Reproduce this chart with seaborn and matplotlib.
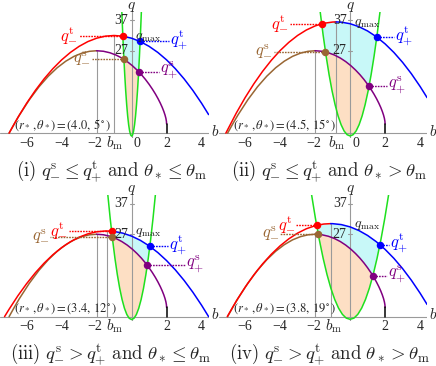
import numpy as np
import matplotlib
matplotlib.use("Agg")
import matplotlib.pyplot as plt
import seaborn as sns

sns.set_theme(style="white")
plt.rcParams["font.family"] = ["Liberation Serif", "DejaVu Serif"]
plt.rcParams["mathtext.fontset"] = "cm"

# critical curve q_s(b), same in all four panels
s_b = [-7.00, -6.70, -6.41, -5.84, -5.29, -4.76, -4.25, -3.76, -3.29, -2.84, -2.41, -2.00,
       -1.61, -1.24, -0.89, -0.56, -0.25, 0.04, 0.31, 0.56, 0.79, 1.00, 1.19, 1.36,
       1.51, 1.64, 1.75, 1.84, 1.91, 1.96, 1.99, 2.00]
s_q = [0.00, 3.08, 5.93, 10.97, 15.20, 18.66, 21.44, 23.58, 25.16, 26.21, 26.81, 27.00,
       26.83, 26.34, 25.59, 24.61, 23.44, 22.12, 20.68, 19.17, 17.60, 16.00, 14.40, 12.83,
       11.30, 9.83, 8.44, 7.13, 5.93, 4.84, 3.86, 3.00]

# turning-point curves q_t(b), one per panel
t_b_1 = [-7.0, -6.5, -6.0, -5.5, -5.0, -4.5, -4.0, -3.5, -3.0, -2.5, -2.0, -1.5, -1.0,
         -0.5, 0.0, 0.5, 1.0, 1.5, 2.0, 2.5, 3.0, 3.5, 4.0, 4.4]
t_q_1 = [0.0, 5.11, 9.78, 14.00, 17.78, 21.11, 24.00, 26.44, 28.44, 30.00, 31.11, 31.78, 32.00,
         31.78, 31.11, 30.00, 28.44, 26.44, 24.00, 21.11, 17.78, 14.00, 9.78, 6.08]
t_b_2 = [-7.1, -6.5, -6.0, -5.5, -5.0, -4.5, -4.0, -3.5, -3.0, -2.5, -2.0, -1.5, -1.0, -0.8,
         -0.5, 0.0, 0.5, 1.0, 1.5, 2.0, 2.5, 3.0, 3.5, 4.0, 4.4]
t_q_2 = [0.0, 6.61, 11.62, 16.16, 20.25, 23.88, 27.05, 29.76, 32.01, 33.80, 35.13, 36.00, 36.41, 36.45,
         36.37, 35.86, 34.90, 33.48, 31.59, 29.25, 26.45, 23.19, 19.47, 15.29, 11.62]
t_b_3 = [-7.26, -7.0, -6.5, -6.0, -5.5, -5.0, -4.5, -4.0, -3.5, -3.0, -2.5, -2.0, -1.5, -1.43,
         -1.0, -0.5, 0.0, 0.5, 1.0, 1.5, 2.0, 2.5, 3.0, 3.5, 4.0, 4.4]
t_q_3 = [0.0, 2.42, 6.82, 10.80, 14.37, 17.53, 20.28, 22.61, 24.53, 26.03, 27.13, 27.80, 28.07, 28.07,
         27.92, 27.36, 26.39, 25.00, 23.20, 20.99, 18.36, 15.32, 11.87, 8.00, 3.72, 0.0]
t_b_4 = [-7.02, -6.5, -6.0, -5.5, -5.0, -4.5, -4.0, -3.5, -3.0, -2.5, -2.0, -1.5, -1.11,
         -1.0, -0.5, 0.0, 0.5, 1.0, 1.5, 2.0, 2.5, 3.0, 3.5, 4.0, 4.4]
t_q_4 = [0.0, 5.15, 9.63, 13.68, 17.29, 20.46, 23.20, 25.50, 27.37, 28.80, 29.79, 30.35, 30.48,
         30.47, 30.16, 29.41, 28.22, 26.60, 24.54, 22.04, 19.11, 15.74, 11.93, 7.69, 3.99]

# green boundary parabola, one per panel
g_b_1 = [-0.560, -0.504, -0.448, -0.392, -0.336, -0.280, -0.224, -0.168, -0.112, -0.056, 0.0,
         0.056, 0.112, 0.168, 0.224, 0.280, 0.336, 0.392, 0.448, 0.504, 0.560]
g_q_1 = [40.0, 32.21, 25.24, 19.09, 13.77, 9.26, 5.57, 2.70, 0.65, -0.58, -0.99,
         -0.58, 0.65, 2.70, 5.57, 9.26, 13.77, 19.09, 25.24, 32.21, 40.0]
g_b_2 = [-1.714, -1.543, -1.371, -1.200, -1.029, -0.857, -0.686, -0.514, -0.343, -0.171, 0.0,
         0.171, 0.343, 0.514, 0.686, 0.857, 1.029, 1.200, 1.371, 1.543, 1.714]
g_q_2 = [40.0, 32.22, 25.26, 19.12, 13.80, 9.30, 5.62, 2.75, 0.70, -0.52, -0.93,
         -0.52, 0.70, 2.75, 5.62, 9.30, 13.80, 19.12, 25.26, 32.22, 40.0]
g_b_3 = [-1.360, -1.224, -1.088, -0.952, -0.816, -0.680, -0.544, -0.408, -0.272, -0.136, 0.0,
         0.136, 0.272, 0.408, 0.544, 0.680, 0.816, 0.952, 1.088, 1.224, 1.360]
g_q_3 = [40.0, 32.22, 25.26, 19.11, 13.79, 9.28, 5.60, 2.73, 0.68, -0.55, -0.96,
         -0.55, 0.68, 2.73, 5.60, 9.28, 13.79, 19.11, 25.26, 32.22, 40.0]
g_b_4 = [-2.202, -1.982, -1.762, -1.541, -1.321, -1.101, -0.881, -0.661, -0.440, -0.220, 0.0,
         0.220, 0.440, 0.661, 0.881, 1.101, 1.321, 1.541, 1.762, 1.982, 2.202]
g_q_4 = [40.0, 32.23, 25.28, 19.14, 13.83, 9.33, 5.65, 2.79, 0.74, -0.49, -0.89,
         -0.49, 0.74, 2.79, 5.65, 9.33, 13.83, 19.14, 25.28, 32.23, 40.0]

# dots: q_-^t, q_+^t, q_-^s, q_+^s
dot_b_1 = [-0.502, 0.487, -0.439, 0.403]
dot_q_1 = [31.77, 30.04, 24.20, 20.15]
dot_b_2 = [-1.625, 1.526, -1.406, 1.081]
dot_q_2 = [35.83, 31.48, 26.60, 15.34]
dot_b_3 = [-1.144, 1.041, -1.106, 0.896]
dot_q_3 = [28.01, 23.03, 26.08, 16.81]
dot_b_4 = [-1.912, 1.703, -1.818, 1.301]
dot_q_4 = [29.93, 23.57, 26.96, 13.39]

# where the dotted leader lines end (label side)
lab_b_1 = [-3.02, 2.12, -2.26, 1.55]
lab_b_2 = [-3.45, 2.52, -4.36, 2.08]
lab_b_3 = [-3.60, 2.08, -4.65, 3.03]
lab_b_4 = [-3.08, 2.21, -3.98, 2.12]

b_m = [-1.0, -0.8, -1.43, -1.11]
q_max = [32.0, 36.45, 28.07, 30.48]
bm_label_b = [-0.97, -0.78, -0.98, -0.95]
show_zero = [True, True, False, False]
params = [r"$(r_*\,,\theta_*)=(4.0,\,5^\circ)$", r"$(r_*\,,\theta_*)=(4.5,\,15^\circ)$",
          r"$(r_*\,,\theta_*)=(3.4,\,12^\circ)$", r"$(r_*\,,\theta_*)=(3.8,\,19^\circ)$"]
captions = [r"$\mathrm{(i)}\ q^{\mathrm{s}}_{-}\leq q^{\mathrm{t}}_{+}\ \mathrm{and}\ \theta_*\leq\theta_{\mathrm{m}}$",
            r"$\mathrm{(ii)}\ q^{\mathrm{s}}_{-}\leq q^{\mathrm{t}}_{+}\ \mathrm{and}\ \theta_*>\theta_{\mathrm{m}}$",
            r"$\mathrm{(iii)}\ q^{\mathrm{s}}_{-}> q^{\mathrm{t}}_{+}\ \mathrm{and}\ \theta_*\leq\theta_{\mathrm{m}}$",
            r"$\mathrm{(iv)}\ q^{\mathrm{s}}_{-}> q^{\mathrm{t}}_{+}\ \mathrm{and}\ \theta_*>\theta_{\mathrm{m}}$"]

RED, BLUE, BROWN, PURPLE = "#ff0000", "#0000ff", "#996633", "#800080"
GREEN = "#1ee01e"
CYAN_FILL, ORANGE_FILL = "#c8f8f8", "#fddfc4"
GRAY = "#9a9a9a"

W, H = 436, 366
fig = plt.figure(figsize=(W / 100, H / 100), dpi=100)


def seg(b, q, lo, hi, desc=False):
    b = np.asarray(b)
    q = np.asarray(q)
    m = (b > lo) & (b < hi)
    bb, qq = b[m], q[m]
    if desc:
        bb, qq = bb[::-1], qq[::-1]
    return list(bb), list(qq)


def panel(k, xoff, yoff, t_b, t_q, g_b, g_q, d_b, d_q, l_b):
    ax = fig.add_axes([xoff / W, 1 - (yoff + 137.7) / H, 208.6 / W, 125.7 / H])
    ax.set_xlim(-7.52, 4.4)
    ax.set_ylim(-1.5, 39.7)
    ax.axis("off")

    rb, bb_, sb, pb = d_b
    rq, bq, sq, pq = d_q

    # orange region: inside parabola, below q_s
    xs, ys = seg(s_b, s_q, sb, pb)
    gx, gy = seg(g_b, g_q, sb, pb, desc=True)
    ax.fill([sb] + xs + [pb] + gx, [sq] + ys + [pq] + gy, color=ORANGE_FILL, lw=0, zorder=1)

    # cyan region: inside parabola, between q_s and q_t
    tx, ty = seg(t_b, t_q, rb, bb_)
    g1x, g1y = seg(g_b, g_q, pb, bb_, desc=True)
    s2x, s2y = seg(s_b, s_q, sb, pb, desc=True)
    g2x, g2y = seg(g_b, g_q, rb, sb, desc=True)
    ax.fill([rb] + tx + [bb_] + g1x + [pb] + s2x + [sb] + g2x,
            [rq] + ty + [bq] + g1y + [pq] + s2y + [sq] + g2y,
            color=CYAN_FILL, lw=0, zorder=1)

    # axes and guide lines
    ax.plot([-7.52, 4.4], [0, 0], color=GRAY, lw=0.8, zorder=2)
    ax.plot([0, 0], [-1.5, 39.7], color=GRAY, lw=0.8, zorder=2)
    ax.plot([-2, -2], [0, 27], color=GRAY, lw=0.8, zorder=2)
    ax.plot([b_m[k], b_m[k]], [0, q_max[k]], color=GRAY, lw=0.8, zorder=2)
    for qt in (27, 37):
        ax.plot([-0.12, 0.12], [qt, qt], color=GRAY, lw=0.8, zorder=2)

    sns.lineplot(x=g_b, y=g_q, ax=ax, color=GREEN, lw=1.1, sort=False, estimator=None,
                 legend=False, zorder=3)

    # q_s: brown left of its maximum, purple to the right
    s_arr_b, s_arr_q = np.array(s_b), np.array(s_q)
    left = s_arr_b <= -2
    right = s_arr_b >= -2
    sns.lineplot(x=s_arr_b[left], y=s_arr_q[left], ax=ax, color=BROWN, lw=1.1, sort=False,
                 estimator=None, legend=False, zorder=4)
    sns.lineplot(x=s_arr_b[right], y=s_arr_q[right], ax=ax, color=PURPLE, lw=1.1, sort=False,
                 estimator=None, legend=False, zorder=4)
    ax.plot([2, 2], [0, 3.0], color="black", lw=1.1, zorder=4)

    # q_t: red up to the split, blue after
    split = max(b_m[k], rb)
    tb = np.array(list(t_b) + [rb])
    tq = np.array(list(t_q) + [rq])
    o = np.argsort(tb)
    tb, tq = tb[o], tq[o]
    r = tb <= split + 1e-9
    bl = tb >= split - 1e-9
    sns.lineplot(x=tb[r], y=tq[r], ax=ax, color=RED, lw=1.1, sort=False, estimator=None,
                 legend=False, zorder=5)
    sns.lineplot(x=tb[bl], y=tq[bl], ax=ax, color=BLUE, lw=1.1, sort=False, estimator=None,
                 legend=False, zorder=5)

    # leader lines, dots and labels
    cols = [RED, BLUE, BROWN, PURPLE]
    labs = [r"$q^{\mathrm{t}}_{-}$", r"$q^{\mathrm{t}}_{+}$", r"$q^{\mathrm{s}}_{-}$", r"$q^{\mathrm{s}}_{+}$"]
    for i in range(4):
        ax.plot([d_b[i], l_b[i]], [d_q[i], d_q[i]], color=cols[i], lw=1.0,
                linestyle=(0, (1.2, 0.8)), zorder=6)
        ax.plot(d_b[i], d_q[i], "o", color=cols[i], ms=5.4, mec="none", zorder=7)
        left_side = l_b[i] < d_b[i]
        ax.text(l_b[i] + (-0.06 if left_side else 0.06), d_q[i] + 0.3, labs[i], color=cols[i],
                fontsize=12, ha="right" if left_side else "left", va="center", zorder=8)

    # tick labels
    tfs = 10
    for bt in (-6, -4, -2, 2, 4):
        ax.text(bt - (0.08 if bt == -2 else 0), -3.3, "\u2212%d" % -bt if bt < 0 else "%d" % bt,
                fontsize=tfs, ha="center", va="center", clip_on=False)
    ax.text(bm_label_b[k], -3.3, r"$b_{\mathrm{m}}$", fontsize=tfs + 1, ha="center", va="center",
            clip_on=False)
    if show_zero[k]:
        ax.text(0.32, -3.3, "0", fontsize=tfs, ha="center", va="center", clip_on=False)
    ax.text(-0.2, 37, "37", fontsize=tfs, ha="right", va="center", zorder=8)
    ax.text(-0.2, 27, "27", fontsize=tfs, ha="right", va="center", zorder=8)
    ax.text(0.2, q_max[k] - 0.5, r"$q_{\mathrm{max}}$", fontsize=tfs, ha="left", va="center",
            zorder=8)
    ax.text(4.75, 0.6, r"$b$", fontsize=11, ha="center", va="center", clip_on=False)
    ax.text(0, 41.4, r"$q$", fontsize=11, ha="center", va="center", clip_on=False)

    ax.text(-6.7, 2.7, params[k], fontsize=9, ha="left", va="center", zorder=8,
            math_fontfamily="stix")

    fig.text((xoff + 111) / W, 1 - (yoff + 171.0) / H, captions[k], fontsize=13.5,
             ha="center", va="center")


panel(0, 0, 0, t_b_1, t_q_1, g_b_1, g_q_1, dot_b_1, dot_q_1, lab_b_1)
panel(1, 218.5, 0, t_b_2, t_q_2, g_b_2, g_q_2, dot_b_2, dot_q_2, lab_b_2)
panel(2, 0, 183.5, t_b_3, t_q_3, g_b_3, g_q_3, dot_b_3, dot_q_3, lab_b_3)
panel(3, 218.5, 183.5, t_b_4, t_q_4, g_b_4, g_q_4, dot_b_4, dot_q_4, lab_b_4)

fig.savefig("out.png", dpi=100)
